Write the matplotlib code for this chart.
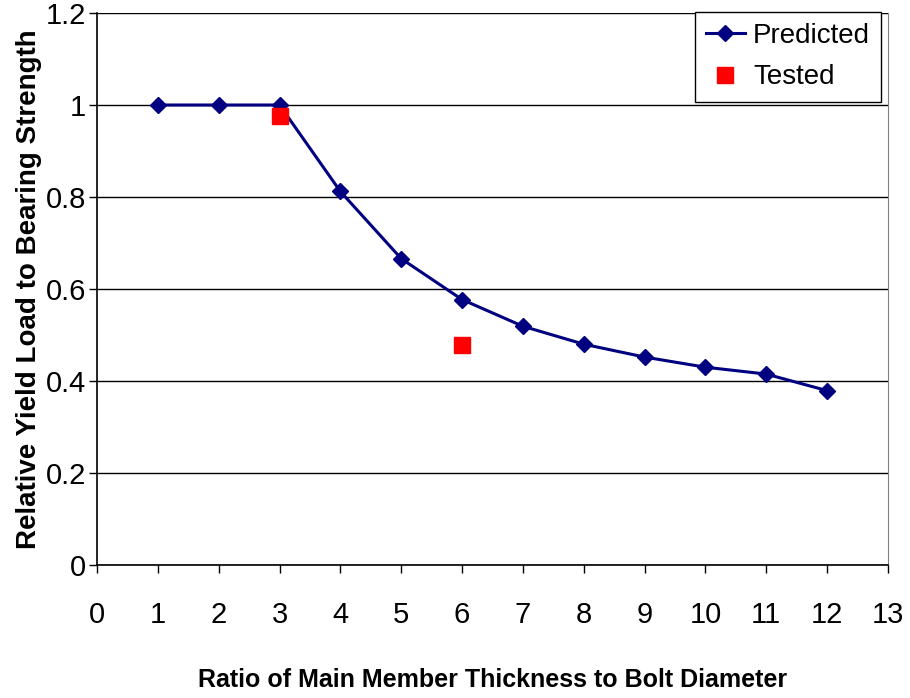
import matplotlib.pyplot as plt

plt.rcParams['font.family'] = ['Liberation Sans', 'DejaVu Sans']

# ratio of main member thickness to bolt diameter
ratio_pred = [1, 2, 3, 4, 5, 6, 7, 8, 9, 10, 11, 12]
yield_pred = [1.0, 1.0, 1.0, 0.812, 0.666, 0.577, 0.519, 0.480, 0.452, 0.430, 0.415, 0.379]

ratio_test = [3, 6]
yield_test = [0.977, 0.479]

x_ticks = list(range(0, 14))
y_ticks = [0, 0.2, 0.4, 0.6, 0.8, 1.0, 1.2]
y_labels = ['0', '0.2', '0.4', '0.6', '0.8', '1', '1.2']

fig = plt.figure(figsize=(9.1, 6.98), dpi=100)
ax = fig.add_axes([97 / 910, 1 - 565 / 698, (888 - 97) / 910, (565 - 13) / 698])

ax.plot(ratio_pred, yield_pred, color='#000080', marker='D', markersize=8,
        linewidth=2.2, label='Predicted', zorder=3)
ax.plot(ratio_test, yield_test, color='#ff0000', marker='s', markersize=12,
        linestyle='none', label='Tested', zorder=4)

ax.set_xlim(0, 13)
ax.set_ylim(0, 1.2)
ax.set_xticks(x_ticks)
ax.set_yticks(y_ticks)
ax.set_yticklabels(y_labels)
ax.tick_params(axis='both', labelsize=21, direction='out', length=6, width=1)
ax.tick_params(axis='x', pad=20)
ax.tick_params(axis='y', pad=2)
ax.grid(axis='y', color='#000000', linewidth=1)
ax.set_axisbelow(True)

ax.spines['top'].set_visible(False)
ax.spines['right'].set_color('#808080')
ax.spines['left'].set_linewidth(1.2)
ax.spines['bottom'].set_linewidth(1.2)

ax.set_xlabel('Ratio of Main Member Thickness to Bolt Diameter', fontsize=18,
              fontweight='bold', labelpad=28)
ax.set_ylabel('Relative Yield Load to Bearing Strength', fontsize=20,
              fontweight='bold')
ax.yaxis.set_label_coords(-0.07, 0.5)

leg = ax.legend(loc='upper right', bbox_to_anchor=(881 / 910, 1 - 12 / 698),
                bbox_transform=fig.transFigure, borderaxespad=0, fontsize=20,
                frameon=True, fancybox=False, framealpha=1, edgecolor='black',
                handlelength=1.4, borderpad=0.4, labelspacing=0.55,
                handletextpad=0.3)
leg.get_frame().set_linewidth(1)

fig.savefig('out.png', dpi=100)
